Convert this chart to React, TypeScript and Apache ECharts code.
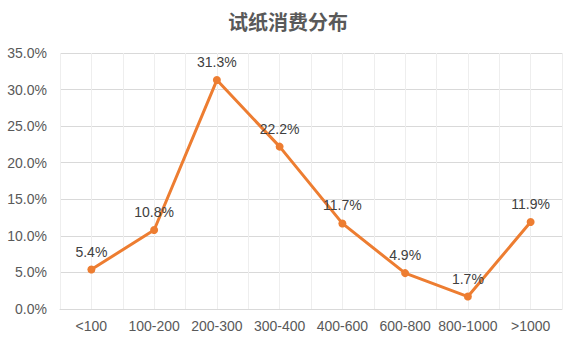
import React, { useEffect, useRef } from "react";
import * as echarts from "echarts";

const categories = ["<100", "100-200", "200-300", "300-400", "400-600", "600-800", "800-1000", ">1000"];
const values = [5.4, 10.8, 31.3, 22.2, 11.7, 4.9, 1.7, 11.9];
const yTicks = [0, 5, 10, 15, 20, 25, 30, 35];

export default function App() {
  const ref = useRef<HTMLDivElement>(null);
  useEffect(() => {
    document.body.style.margin = "0";
    if (!ref.current) return;
    const chart = echarts.init(ref.current, null, { renderer: "svg" });
    const font = "'Liberation Sans', Arial, 'Noto Sans CJK SC', sans-serif";
    chart.setOption({
      animation: false,
      textStyle: { fontFamily: font },
      title: {
        text: "试纸消费分布",
        left: "center",
        top: 6,
        textStyle: { fontFamily: "'Noto Sans CJK SC', sans-serif", fontSize: 20, fontWeight: "bold", color: "#595959" },
      },
      grid: { left: 60, right: 14, top: 53, bottom: 33 },
      xAxis: [
        {
          type: "category",
          data: categories,
          boundaryGap: true,
          axisLine: { show: true, lineStyle: { color: "#d9d9d9", width: 1 } },
          axisTick: { show: false },
          axisLabel: { color: "#595959", fontSize: 14, margin: 10, interval: 0, fontFamily: font },
          splitLine: { show: false },
        },
        {
          type: "value",
          min: 0,
          max: 8,
          interval: 0.5,
          position: "bottom",
          axisLine: { show: false },
          axisTick: { show: false },
          axisLabel: { show: false },
          splitLine: { show: true, lineStyle: { color: "#eeeeee", width: 1 } },
        },
      ],
      yAxis: {
        type: "value",
        min: yTicks[0],
        max: yTicks[yTicks.length - 1],
        interval: 5,
        axisLine: { show: false },
        axisTick: { show: false },
        axisLabel: { color: "#595959", fontSize: 14, margin: 13, formatter: (v: number) => v.toFixed(1) + "%", fontFamily: font },
        splitLine: { show: true, lineStyle: { color: "#d9d9d9", width: 1 } },
      },
      series: [
        {
          type: "line",
          xAxisIndex: 0,
          data: values,
          symbol: "circle",
          symbolSize: 8,
          lineStyle: { color: "#ED7D31", width: 3 },
          itemStyle: { color: "#ED7D31" },
          label: {
            show: true,
            position: "top",
            distance: 7,
            color: "#404040",
            fontSize: 14,
            fontFamily: font,
            formatter: (p: any) => p.value.toFixed(1) + "%",
          },
        },
      ],
    });
    return () => chart.dispose();
  }, []);
  return <div ref={ref} style={{ width: 576, height: 342 }} />;
}
